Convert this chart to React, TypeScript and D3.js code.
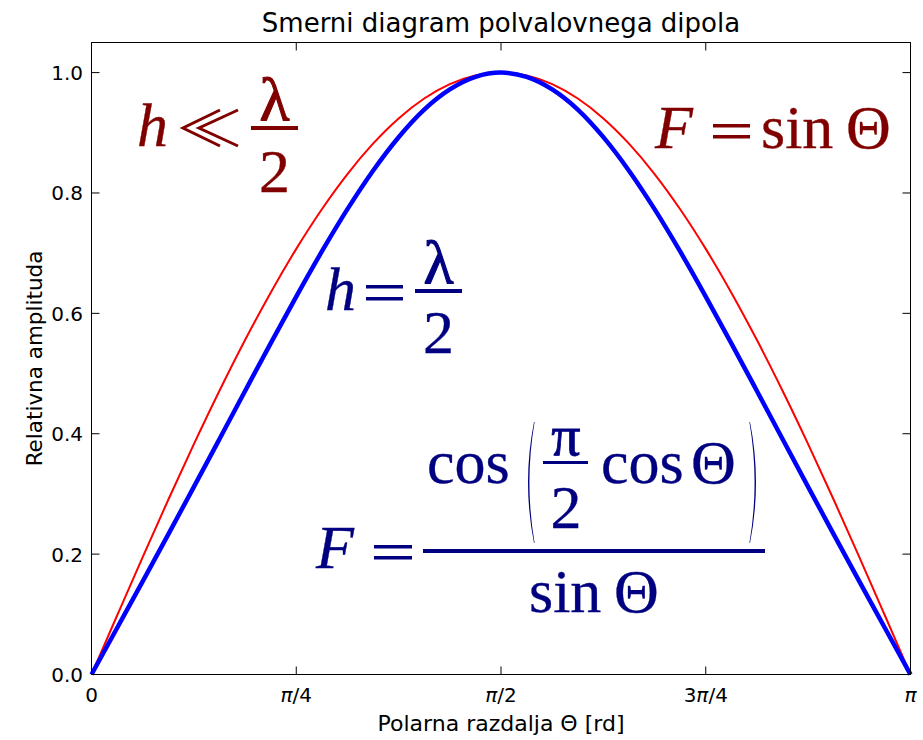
import React from "react";
import * as d3 from "d3";

// Sampled polar angles k·π/32 (k = 0..32)
const thetaSteps = d3.range(0, 33);
const PI = Math.PI;

// F = sin Θ (short dipole), sampled at the angles above
const shortDipole = [
  0, 0.098, 0.1951, 0.2903, 0.3827, 0.4714, 0.5556, 0.6344, 0.7071, 0.773, 0.8315,
  0.8819, 0.9239, 0.9569, 0.9808, 0.9952, 1.0, 0.9952, 0.9808, 0.9569, 0.9239,
  0.8819, 0.8315, 0.773, 0.7071, 0.6344, 0.5556, 0.4714, 0.3827, 0.2903, 0.1951,
  0.098, 0,
];

// F = cos(π/2 cos Θ) / sin Θ (half-wave dipole)
const halfWaveDipole = [
  0, 0.0773, 0.1547, 0.2328, 0.3117, 0.3912, 0.471, 0.5502, 0.6279, 0.7028, 0.7731,
  0.837, 0.8927, 0.9385, 0.972, 0.9928, 1.0, 0.9928, 0.972, 0.9385, 0.8927, 0.837,
  0.7731, 0.7028, 0.6279, 0.5502, 0.471, 0.3912, 0.3117, 0.2328, 0.1547, 0.0773, 0,
];

const xTickValues = [0, PI / 4, PI / 2, (3 * PI) / 4, PI];
// [prefix, π, suffix] for each x tick label
const xTickLabels: [string, string, string][] = [
  ["", "", "0"],
  ["", "π", "/4"],
  ["", "π", "/2"],
  ["3", "π", "/4"],
  ["", "π", ""],
];
const yTickValues = [0, 0.2, 0.4, 0.6, 0.8, 1.0];

const W = 923;
const H = 740;
const left = 91.5;
const right = 910.5;
const top = 42.5;
const bottom = 674.5;

const SANS = "'DejaVu Sans', sans-serif";
const SERIF = "'Liberation Serif', 'DejaVu Serif', serif";
const DARKRED = "#800000";
const NAVY = "#000080";

function Paren({ x, y0, y1, dir }: { x: number; y0: number; y1: number; dir: 1 | -1 }) {
  // dir = 1 opening, -1 closing
  const mid = (y0 + y1) / 2;
  const bulge = 12 * dir;
  const thick = 2.2 * dir;
  const d = `M${x},${y0} Q${x - bulge},${mid} ${x},${y1} L${x + 0.6 * dir},${y1} Q${x - bulge + thick},${mid} ${x + 0.6 * dir},${y0} Z`;
  return <path d={d} fill={NAVY} />;
}

export default function App() {
  const x = d3.scaleLinear().domain([0, PI]).range([left, right]);
  const y = d3.scaleLinear().domain([0, 1.05]).range([bottom, top]);

  const line = d3
    .line<number>()
    .x((_, i) => x((thetaSteps[i] * PI) / 32))
    .y((v) => y(v))
    .curve(d3.curveMonotoneX);

  const tickLen = 8;
  const mathRed = { stroke: DARKRED, strokeWidth: 0.35 };
  const mathBlue = { stroke: NAVY, strokeWidth: 0.35 };

  return (
    <svg width={W} height={H} style={{ position: "absolute", left: 0, top: 0 }}>
      <rect width={W} height={H} fill="#fff" />

      {/* Curves */}
      <path d={line(shortDipole) ?? ""} fill="none" stroke="#ff0000" strokeWidth={2} />
      <path d={line(halfWaveDipole) ?? ""} fill="none" stroke="#0000ff" strokeWidth={4.5} strokeLinejoin="round" />

      {/* Frame */}
      <rect x={left} y={top} width={right - left} height={bottom - top} fill="none" stroke="#000" strokeWidth={1} />

      {/* X ticks */}
      {xTickValues.map((v, i) => (
        <g key={"xt" + i}>
          <line x1={x(v)} x2={x(v)} y1={bottom} y2={bottom - tickLen} stroke="#000" />
          <line x1={x(v)} x2={x(v)} y1={top} y2={top + tickLen} stroke="#000" />
          <text x={x(v)} y={702} textAnchor="middle" fontFamily={SANS} fontSize={20}>
            {xTickLabels[i][0]}
            <tspan fontStyle="italic">{xTickLabels[i][1]}</tspan>
            {xTickLabels[i][2]}
          </text>
        </g>
      ))}

      {/* Y ticks */}
      {yTickValues.map((v, i) => (
        <g key={"yt" + i}>
          <line x1={left} x2={left + tickLen} y1={y(v)} y2={y(v)} stroke="#000" />
          <line x1={right} x2={right - tickLen} y1={y(v)} y2={y(v)} stroke="#000" />
          <text x={83} y={y(v) + 7.5} textAnchor="end" fontFamily={SANS} fontSize={20}>
            {v.toFixed(1)}
          </text>
        </g>
      ))}

      {/* Titles */}
      <text x={(left + right) / 2} y={32} textAnchor="middle" fontFamily={SANS} fontSize={26}>
        Smerni diagram polvalovnega dipola
      </text>
      <text x={(left + right) / 2} y={731} textAnchor="middle" fontFamily={SANS} fontSize={22}>
        Polarna razdalja Θ [rd]
      </text>
      <text
        transform={`translate(42, ${(top + bottom) / 2}) rotate(-90)`}
        textAnchor="middle"
        fontFamily={SANS}
        fontSize={21.5}
      >
        Relativna amplituda
      </text>

      {/* h ≪ λ/2 */}
      <g fill={DARKRED} fontFamily={SERIF} fontSize={62}>
        <text x={137} y={146} fontStyle="italic" {...mathRed}>h</text>
        <path
          d="M220,110 L183,128 L220,146 M238,110 L199,128 L238,146"
          fill="none"
          stroke={DARKRED}
          strokeWidth={3}
          strokeLinejoin="miter"
        />
        <rect x={251} y={126} width={47} height={4} />
        <text x={274.5} y={120} textAnchor="middle" {...mathRed} strokeWidth={1.1}>λ</text>
        <text x={274.5} y={192} textAnchor="middle" {...mathRed}>2</text>
      </g>

      {/* F = sin Θ */}
      <g fill={DARKRED} fontFamily={SERIF} fontSize={62}>
        <text x={655} y={148} fontStyle="italic" {...mathRed}>F</text>
        <rect x={713} y={124} width={37} height={3.5} />
        <rect x={713} y={135} width={37} height={3.5} />
        <text x={761} y={148} {...mathRed}>sin</text>
        <text x={846} y={148} {...mathRed}>Θ</text>
      </g>

      {/* h = λ/2 */}
      <g fill={NAVY} fontFamily={SERIF} fontSize={62}>
        <text x={325} y={310} fontStyle="italic" {...mathBlue}>h</text>
        <rect x={366} y={285} width={37} height={3.5} />
        <rect x={366} y={297} width={37} height={3.5} />
        <rect x={415} y={289} width={47} height={4} />
        <text x={438.5} y={283} textAnchor="middle" {...mathBlue} strokeWidth={1.1}>λ</text>
        <text x={438.5} y={353} textAnchor="middle" {...mathBlue}>2</text>
      </g>

      {/* F = cos(π/2 cos Θ) / sin Θ */}
      <g fill={NAVY} fontFamily={SERIF} fontSize={62}>
        <text x={316} y={568} fontStyle="italic" {...mathBlue}>F</text>
        <rect x={374} y={545} width={38} height={3.5} />
        <rect x={374} y={556} width={38} height={3.5} />
        <text x={427} y={483} {...mathBlue}>cos</text>
        <Paren x={534} y0={422} y1={543} dir={1} />
        <rect x={543} y={461} width={45} height={3} />
        <text x={566} y={455} textAnchor="middle" fontSize={58} {...mathBlue} strokeWidth={0.8}>π</text>
        <text x={566} y={528} textAnchor="middle" fontSize={62} {...mathBlue}>2</text>
        <text x={601} y={483} {...mathBlue}>cos</text>
        <text x={691} y={483} {...mathBlue}>Θ</text>
        <Paren x={750} y0={422} y1={543} dir={-1} />
        <rect x={423} y={549} width={342} height={4} />
        <text x={529} y={612} {...mathBlue}>sin</text>
        <text x={614} y={612} {...mathBlue}>Θ</text>
      </g>
    </svg>
  );
}
